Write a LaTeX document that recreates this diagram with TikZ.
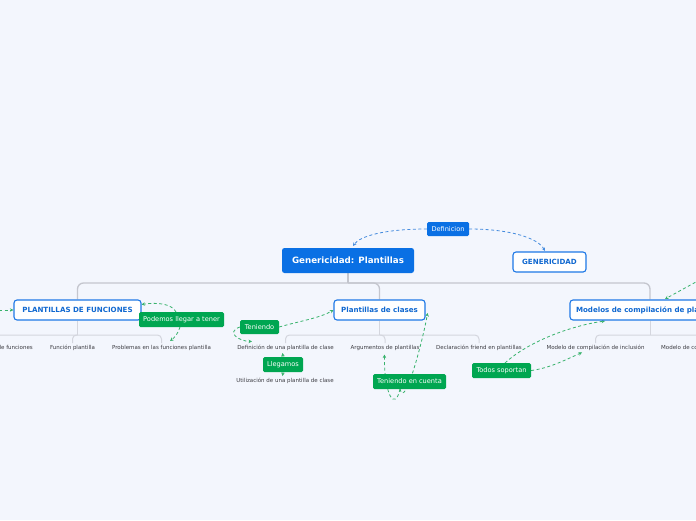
\documentclass[tikz,border=0pt]{standalone}
\usepackage{fontspec}
\setmainfont{DejaVu Sans}
\usetikzlibrary{arrows.meta}
\definecolor{bgc}{RGB}{243,246,253}
\definecolor{rootblue}{RGB}{10,112,228}
\definecolor{lvlblue}{RGB}{30,120,230}
\definecolor{lvltext}{RGB}{16,104,208}
\definecolor{gfill}{RGB}{0,166,81}
\definecolor{leafgray}{RGB}{60,60,66}
\definecolor{treegray}{RGB}{196,198,206}
\definecolor{subgray}{RGB}{212,214,222}
\definecolor{bdashc}{RGB}{70,140,222}
\definecolor{gdashc}{RGB}{56,178,108}
\pgfdeclarelayer{back}
\pgfdeclarelayer{bg}
\pgfsetlayers{back,bg,main}
\tikzset{
  rootbox/.style={fill=rootblue, rounded corners=2.5pt, text=white, font=\bfseries\fontsize{8.7}{10}\selectfont, inner sep=0pt},
  lvlbox/.style={draw=lvlblue, line width=1.1pt, fill=white, rounded corners=3pt, text=lvltext, font=\bfseries\fontsize{7.1}{8}\selectfont, inner sep=0pt, minimum height=20pt},
  defbox/.style={fill=rootblue, rounded corners=1.5pt, text=white, font=\fontsize{6.6}{7}\selectfont, inner sep=0pt, minimum height=14pt},
  gbox/.style={fill=gfill, rounded corners=1.5pt, text=white, font=\fontsize{6.6}{7}\selectfont, inner sep=0pt, minimum height=15pt},
  leaf/.style={text=leafgray, font=\fontsize{5.5}{6}\selectfont, inner sep=2pt},
  tree/.style={draw=treegray, line width=1.3pt, rounded corners=6pt},
  subtree/.style={draw=subgray, line width=1pt, rounded corners=4pt},
  bdash/.style={draw=bdashc, line width=0.8pt, dash pattern=on 3pt off 2.5pt, -{Stealth[length=3.5pt,width=3.5pt]}},
  gdash/.style={draw=gdashc, line width=0.8pt, dash pattern=on 3pt off 2.5pt, -{Stealth[length=3.5pt,width=3.5pt]}}
}
\begin{document}
\begin{tikzpicture}[x=1pt,y=-1pt]
\begin{pgfonlayer}{back}
\fill[bgc] (0,0) rectangle (696,520);
\end{pgfonlayer}
\useasboundingbox (0,0) rectangle (696,520);
\clip (0,0) rectangle (696,520);

% main nodes
\node[rootbox, minimum width=132pt, minimum height=25pt] (root) at (348,260.5) {Genericidad: Plantillas};
\node[lvlbox, minimum width=73pt] (gen) at (549.5,262) {GENERICIDAD};
\node[defbox, minimum width=42pt] (def) at (448,229) {Definicion};
\node[lvlbox, minimum width=127pt] (pf) at (77.5,310) {PLANTILLAS DE FUNCIONES};
\node[lvlbox, minimum width=91pt] (pc) at (379.5,310) {Plantillas de clases};
\node[lvlbox, minimum width=160pt] (mc) at (650,310) {Modelos de compilación de plantillas};

% leaves
\node[leaf, anchor=east] (pf1) at (35,348) {Definición de plantilla de funciones};
\node[leaf] (pf2) at (72.5,348) {Función plantilla};
\node[leaf] (pf3) at (161.5,348) {Problemas en las funciones plantilla};
\node[leaf] (pc1) at (285.5,348) {Definición de una plantilla de clase};
\node[leaf] (pc2) at (385,348) {Argumentos de plantillas};
\node[leaf] (pc3) at (479,348) {Declaración friend en plantillas};
\node[leaf] (mc1) at (595.5,348) {Modelo de compilación de inclusión};
\node[leaf, anchor=west] (mc2) at (659,348) {Modelo de compilación separada};
\node[leaf] (util) at (285,381) {Utilización de una plantilla de clase};

% green labels
\node[gbox, minimum width=85pt] (pod) at (181.5,319.5) {Podemos llegar a tener};
\node[gbox, minimum width=39pt, minimum height=14pt] (ten) at (259.5,327) {Teniendo};
\node[gbox, minimum width=40pt] (lle) at (283,364.5) {Llegamos};
\node[gbox, minimum width=73pt] (tec) at (409.5,381.5) {Teniendo en cuenta};
\node[gbox, minimum width=59pt] (tod) at (501.5,370.5) {Todos soportan};

% outside coordinates
\coordinate (lefto) at (-12,310);
\coordinate (righto) at (705,277);

\begin{pgfonlayer}{bg}
% tree lines
\draw[tree] (root.south) -- (348,283);
\draw[tree] (348,283) -| (pf.north);
\draw[tree] (348,283) -| (pc.north);
\draw[tree] (348,283) -| (mc.north);
% sub trees
\draw[subtree] (pf.south) -- (77.5,335);
\draw[subtree] (77.5,335) -| (pf1.north);
\draw[subtree] (77.5,335) -| (pf2.north);
\draw[subtree] (77.5,335) -| (pf3.north);
\draw[subtree] (pc.south) -- (379.5,335);
\draw[subtree] (379.5,335) -| (pc1.north);
\draw[subtree] (379.5,335) -| (pc2.north);
\draw[subtree] (379.5,335) -| (pc3.north);
\draw[subtree] (mc.south) -- (650,335);
\draw[subtree] (650,335) -| (mc1.north);
\draw[subtree] (650,335) -| (mc2.north);

% blue relations
\draw[bdash] (def.west) .. controls (385,229) and (360,236) .. (353,246);
\draw[bdash] (def.east) .. controls (510,229) and (538,238) .. (545,251);

% green relations
\draw[gdash] (lefto) -- (pf.west);
\draw[gdash] (righto) -- (665,299);
\draw[gdash] (176,312) .. controls (172,304) and (158,302) .. (141.5,304.5);
\draw[gdash] (180,327) .. controls (178,334) and (174,338) .. (170,341);
\draw[gdash] (ten.east) .. controls (300,321) and (320,318) .. (pc.west);
\draw[gdash] (ten.west) .. controls (226,332) and (238,341) .. (252,341.5);
\draw[gdash] (lle.north) -- (282.5,353);
\draw[gdash] (lle.south) -- (282.5,376);
\draw[gdash] (400,389) .. controls (395,412) and (384,395) .. (384.5,354.5);
\draw[gdash] (400,389) .. controls (405,412) and (425,330) .. (427.5,313);
\draw[gdash] (505,363) .. controls (530,340) and (575,325) .. (605,321);
\draw[gdash] (tod.east) .. controls (550,368) and (565,360) .. (582,352.5);
\end{pgfonlayer}
\end{tikzpicture}
\end{document}
